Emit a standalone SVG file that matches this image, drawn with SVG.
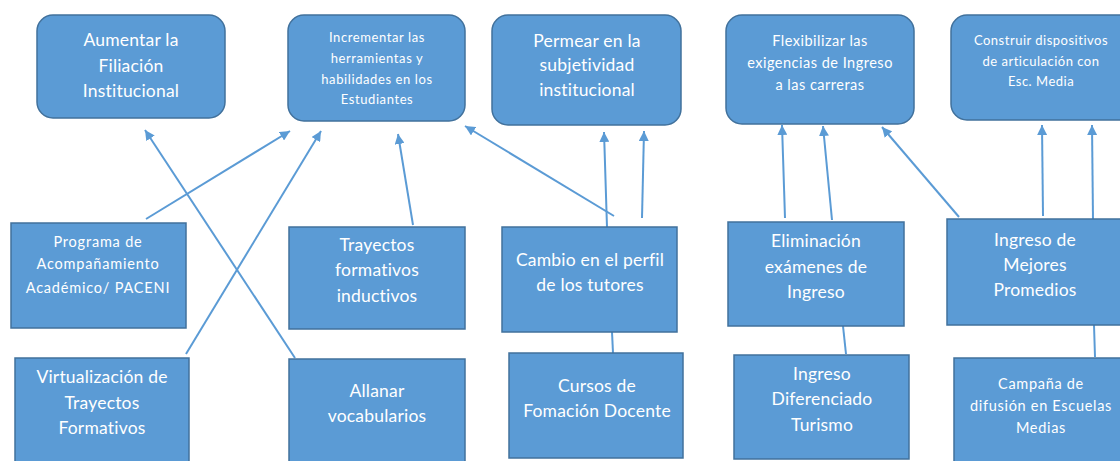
<svg xmlns="http://www.w3.org/2000/svg" width="1120" height="461" viewBox="0 0 1120 461">
<defs>
<style>
.box{fill:#5b9bd5;stroke:#41719c;stroke-width:1.5}
.t{fill:#ffffff;font-family:Lato,"Open Sans","Liberation Sans",sans-serif;text-anchor:middle}
.f16{font-size:17.5px;letter-spacing:0.2px}
.f14{font-size:14.5px;letter-spacing:0.7px}
.f13{font-size:13px;letter-spacing:0.5px}
.f12{font-size:13px;letter-spacing:0.6px}
.c{stroke:#5b9bd5;stroke-width:2;fill:none}
.arr{marker-end:url(#ah)}
</style>
<marker id="ah" markerUnits="userSpaceOnUse" markerWidth="10" markerHeight="10" viewBox="0 0 10 10" refX="10" refY="5" orient="auto">
<path d="M0,0 L10,5 L0,10 z" fill="#5b9bd5"/>
</marker>
</defs>
<rect width="1120" height="461" fill="#ffffff"/>
<g id="connectors">
<line class="c arr" x1="146" y1="219" x2="290" y2="131"/>
<line class="c arr" x1="295" y1="358" x2="145" y2="130"/>
<line class="c arr" x1="186" y1="354" x2="321" y2="131"/>
<line class="c arr" x1="413" y1="225" x2="398" y2="134"/>
<line class="c arr" x1="614" y1="216" x2="465" y2="126"/>
<line class="c arr" x1="607" y1="227" x2="604" y2="132"/>
<line class="c arr" x1="642" y1="218" x2="644" y2="131"/>
<line class="c arr" x1="785" y1="218" x2="782" y2="125"/>
<line class="c arr" x1="832" y1="220" x2="823" y2="126"/>
<line class="c arr" x1="959" y1="217" x2="882" y2="127"/>
<line class="c arr" x1="1043" y1="216" x2="1042" y2="125"/>
<line class="c arr" x1="1093" y1="220" x2="1092" y2="125"/>
<line class="c" x1="612" y1="332" x2="613" y2="353"/>
<line class="c" x1="843" y1="326" x2="846" y2="354"/>
<line class="c" x1="1094" y1="325" x2="1095" y2="357"/>
</g>
<g id="n1"><rect class="box" x="37" y="15" width="188" height="103" rx="16"/>
<text class="t f16"><tspan x="131" y="46">Aumentar la</tspan><tspan x="131" y="72">Filiación</tspan><tspan x="131" y="97">Institucional</tspan></text></g>
<g id="n2"><rect class="box" x="288" y="15" width="177" height="106" rx="16"/>
<text class="t f12"><tspan x="377" y="42">Incrementar las</tspan><tspan x="377" y="63">herramientas y</tspan><tspan x="377" y="84">habilidades en los</tspan><tspan x="377" y="104">Estudiantes</tspan></text></g>
<g id="n3"><rect class="box" x="492" y="15" width="189" height="110" rx="16"/>
<text class="t f16"><tspan x="587" y="47">Permear en la</tspan><tspan x="587" y="71">subjetividad</tspan><tspan x="587" y="96">institucional</tspan></text></g>
<g id="n4"><rect class="box" x="726" y="15" width="188" height="109" rx="16"/>
<text class="t f14" style="letter-spacing:0.5px"><tspan x="820" y="46">Flexibilizar las</tspan><tspan x="820" y="68">exigencias de Ingreso</tspan><tspan x="820" y="90">a las carreras</tspan></text></g>
<g id="n5"><rect class="box" x="951" y="15" width="190" height="105" rx="16"/>
<text class="t f13"><tspan x="1041" y="45">Construir dispositivos</tspan><tspan x="1041" y="66">de articulación con</tspan><tspan x="1041" y="86">Esc. Media</tspan></text></g>
<g id="nA"><rect class="box" x="11" y="223" width="175" height="105"/>
<text class="t f14" style="letter-spacing:0.8px"><tspan x="98" y="247">Programa de</tspan><tspan x="98" y="269">Acompañamiento</tspan><tspan x="98" y="293">Académico/ PACENI</tspan></text></g>
<g id="nB"><rect class="box" x="289" y="227" width="176" height="102"/>
<text class="t f16"><tspan x="377" y="251">Trayectos</tspan><tspan x="377" y="276">formativos</tspan><tspan x="377" y="302">inductivos</tspan></text></g>
<g id="nC"><rect class="box" x="15" y="358" width="174" height="110"/>
<text class="t f16"><tspan x="102" y="383">Virtualización de</tspan><tspan x="102" y="409">Trayectos</tspan><tspan x="102" y="434">Formativos</tspan></text></g>
<g id="nD"><rect class="box" x="289" y="359" width="176" height="110"/>
<text class="t f16"><tspan x="377" y="397">Allanar</tspan><tspan x="377" y="422">vocabularios</tspan></text></g>
<g id="nE"><rect class="box" x="502" y="227" width="175" height="105"/>
<text class="t f16"><tspan x="590" y="266">Cambio en el perfil</tspan><tspan x="590" y="291">de los tutores</tspan></text></g>
<g id="nF"><rect class="box" x="509" y="353" width="174" height="105"/>
<text class="t f16"><tspan x="597" y="392">Cursos de</tspan><tspan x="597" y="417">Fomación Docente</tspan></text></g>
<g id="nG"><rect class="box" x="728" y="222" width="176" height="104"/>
<text class="t f16"><tspan x="816" y="247">Eliminación</tspan><tspan x="816" y="273">exámenes de</tspan><tspan x="816" y="298">Ingreso</tspan></text></g>
<g id="nH"><rect class="box" x="734" y="355" width="175" height="104"/>
<text class="t f16"><tspan x="822" y="380">Ingreso</tspan><tspan x="822" y="405">Diferenciado</tspan><tspan x="822" y="431">Turismo</tspan></text></g>
<g id="nI"><rect class="box" x="947" y="219" width="190" height="106"/>
<text class="t f16"><tspan x="1035" y="246">Ingreso de</tspan><tspan x="1035" y="271">Mejores</tspan><tspan x="1035" y="296">Promedios</tspan></text></g>
<g id="nJ"><rect class="box" x="954" y="358" width="190" height="110"/>
<text class="t f14"><tspan x="1041" y="389">Campaña de</tspan><tspan x="1041" y="411">difusión en Escuelas</tspan><tspan x="1041" y="433">Medias</tspan></text></g>
</svg>
